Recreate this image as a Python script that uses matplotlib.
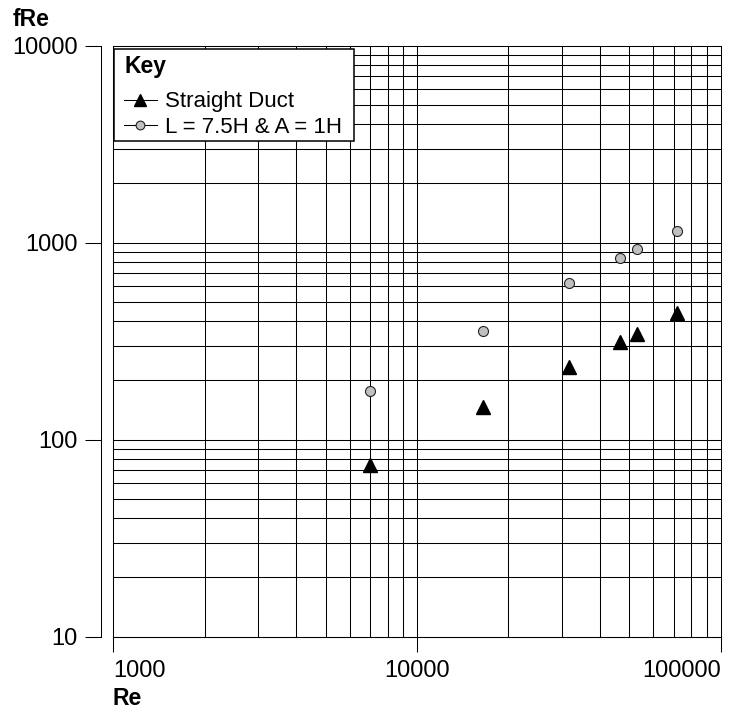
import matplotlib
matplotlib.use("Agg")
import matplotlib.pyplot as plt
from matplotlib.lines import Line2D
from matplotlib.patches import Rectangle

plt.rcParams['font.family'] = ['Liberation Sans', 'DejaVu Sans']

# DATOS
re_vals = [7000, 16500, 31700, 46500, 53000, 72000]
fre_straight = [74, 147, 235, 315, 344, 438]
fre_bend = [176, 356, 622, 836, 932, 1151]

label_straight = "Straight Duct"
label_bend = "L = 7.5H & A = 1H"

xticks = [1000, 10000, 100000]
xtick_labels = ["1000", "10000", "100000"]
yticks = [10, 100, 1000, 10000]
ytick_labels = ["10", "100", "1000", "10000"]

W, H = 730, 715

def fx(x):
    return x / W

def fy(y):
    return 1 - y / H

fig = plt.figure(figsize=(W / 100, H / 100), dpi=100)
ax = fig.add_axes([fx(113.3), fy(636.7), (720.7 - 113.3) / W, (636.7 - 45.7) / H])

ax.set_xscale("log")
ax.set_yscale("log")
ax.set_xlim(1000, 100000)
ax.set_ylim(10, 10000)

# rejilla log completa
grid_kw = dict(color="black", lw=0.75, zorder=1, clip_on=False)
for d in [1000, 10000]:
    for k in range(1, 10):
        ax.axvline(k * d, **grid_kw)
ax.axvline(100000, **grid_kw)
for d in [10, 100, 1000]:
    for k in range(1, 10):
        ax.axhline(k * d, **grid_kw)
ax.axhline(10000, **grid_kw)

# puntos
ax.plot(re_vals, fre_straight, linestyle="none", marker="^", ms=9.5,
        color="black", zorder=3, clip_on=False)
ax.plot(re_vals, fre_bend, linestyle="none", marker="o", ms=7.2,
        mfc="#c0c0c0", mec="#222222", mew=0.8, zorder=3, clip_on=False)

# ejes
ax.spines["top"].set_visible(False)
ax.spines["right"].set_visible(False)
ax.spines["left"].set_position(("outward", 8.9))
for s in ["left", "bottom"]:
    ax.spines[s].set_linewidth(0.75)

ax.set_xticks(xticks, labels=xtick_labels)
ax.set_yticks(yticks, labels=ytick_labels)
ax.minorticks_off()
ax.tick_params(axis="x", direction="out", length=10.8, width=0.75, pad=6, labelsize=17)
ax.tick_params(axis="y", direction="out", length=11.2, width=0.75, pad=5.5, labelsize=17)
for lbl, ha in zip(ax.get_xticklabels(), ["left", "center", "right"]):
    lbl.set_ha(ha)

fig.text(fx(13), fy(26), "fRe", fontsize=16.5, fontweight="bold", ha="left", va="baseline")
fig.text(fx(113), fy(705), "Re", fontsize=16.5, fontweight="bold", ha="left", va="baseline")

# LEYENDA (caja "Key")
fig.add_artist(Rectangle((fx(114), fy(140.5)), (354 - 114) / W, (140.5 - 48.7) / H,
                         transform=fig.transFigure, fc="white", ec="black", lw=1.1, zorder=5))
fig.text(fx(125), fy(73), "Key", fontsize=16.5, fontweight="bold", ha="left",
         va="baseline", zorder=6)

rows = [
    (99.5, dict(marker="^", ms=8.5, mfc="black", mec="black"), label_straight),
    (125.0, dict(marker="o", ms=6.3, mfc="#c0c0c0", mec="#222222", mew=0.8), label_bend),
]
for y, mk, txt in rows:
    fig.add_artist(Line2D([fx(124), fx(157)], [fy(y), fy(y)], color="black", lw=0.75,
                          transform=fig.transFigure, zorder=6))
    fig.add_artist(Line2D([fx(140.3)], [fy(y)], linestyle="none",
                          transform=fig.transFigure, zorder=7, **mk))
    fig.text(fx(165), fy(y), txt, fontsize=16, ha="left", va="center_baseline", zorder=7)

fig.savefig("out.png", dpi=100)
